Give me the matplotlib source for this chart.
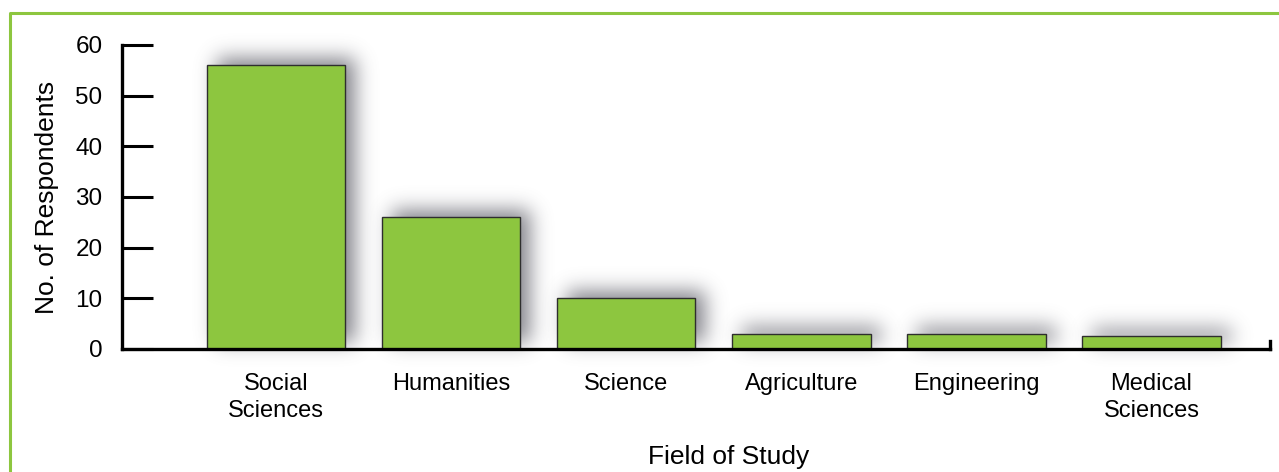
import matplotlib
matplotlib.use("Agg")
import numpy as np
import matplotlib.pyplot as plt
from matplotlib.colors import to_rgb

plt.rcParams['font.family'] = ['Liberation Sans', 'DejaVu Sans']

categories = ["Social\nSciences", "Humanities", "Science", "Agriculture",
              "Engineering", "Medical\nSciences"]
respondents = [56, 26, 10, 3, 3, 2.5]
y_ticks = [0, 10, 20, 30, 40, 50, 60]

bar_green = "#8dc63f"
frame_green = "#8dc63f"


class DropShadow:
    """agg filter: blur the alpha of an artist, tint it grey and shift it."""

    def __init__(self, sigma=10.0, offset=(10, 7), color="#5a5a64", alpha=0.75):
        self.sigma = sigma
        self.offset = offset
        self.rgb = to_rgb(color)
        self.alpha = alpha

    def __call__(self, im, dpi):
        r = int(3 * self.sigma)
        t = np.arange(-r, r + 1)
        k = np.exp(-0.5 * (t / self.sigma) ** 2)
        k /= k.sum()
        ox, oy = self.offset
        pad = r + max(abs(ox), abs(oy))
        a = np.pad(im[..., 3], pad)
        a = np.apply_along_axis(lambda v: np.convolve(v, k, mode="same"), 0, a)
        a = np.apply_along_axis(lambda v: np.convolve(v, k, mode="same"), 1, a)
        a = np.roll(a, ox, axis=1)
        a = np.roll(a, -oy, axis=0)
        out = np.zeros(a.shape + (4,))
        out[..., 0], out[..., 1], out[..., 2] = self.rgb
        out[..., 3] = np.clip(a * self.alpha, 0, 1)
        return out, -pad, -pad


fig = plt.figure(figsize=(12.79, 4.72), dpi=100)
ax = fig.add_axes([0.0954, 0.2606, 0.8976, 0.6441])

x = list(range(len(categories)))
bar_width = 0.79

# shadow layer under the bars
shadow_bars = ax.bar(x, respondents, width=bar_width, color="black",
                     linewidth=0, zorder=1.5)
for b in shadow_bars:
    b.set_agg_filter(DropShadow())
    b.set_clip_on(False)

ax.bar(x, respondents, width=bar_width, color=bar_green, edgecolor="#2e2e2e",
       linewidth=1.0, zorder=2)

ax.set_xlim(-0.88, 5.677)
ax.set_ylim(0, 60)
ax.set_yticks(y_ticks)
ax.set_xticks(x)
ax.set_xticklabels(categories, fontsize=17, linespacing=1.34)
ax.tick_params(axis="x", length=0, pad=17)
ax.tick_params(axis="y", direction="in", length=22, width=2.2, labelsize=17.5, pad=14)

for side in ("top", "right"):
    ax.spines[side].set_visible(False)
for side in ("left", "bottom"):
    ax.spines[side].set_linewidth(2.4)
    ax.spines[side].set_zorder(3)

# small end tick at the right of the category axis
ax.plot([1, 1], [0, 0.025], transform=ax.transAxes, color="black",
        linewidth=2.4, clip_on=False, zorder=3)

ax.set_xlabel("Field of Study", fontsize=19)
ax.xaxis.set_label_coords(0.528, -0.315)
ax.set_ylabel("No. of Respondents", fontsize=19, labelpad=12)

# light green frame along the top and left edges
fig.add_artist(plt.Line2D([10 / 1279, 10 / 1279, 1.0], [0.0, 1 - 13 / 472, 1 - 13 / 472],
                          transform=fig.transFigure, color=frame_green, linewidth=2.2))

fig.savefig("out.png", dpi=100)
